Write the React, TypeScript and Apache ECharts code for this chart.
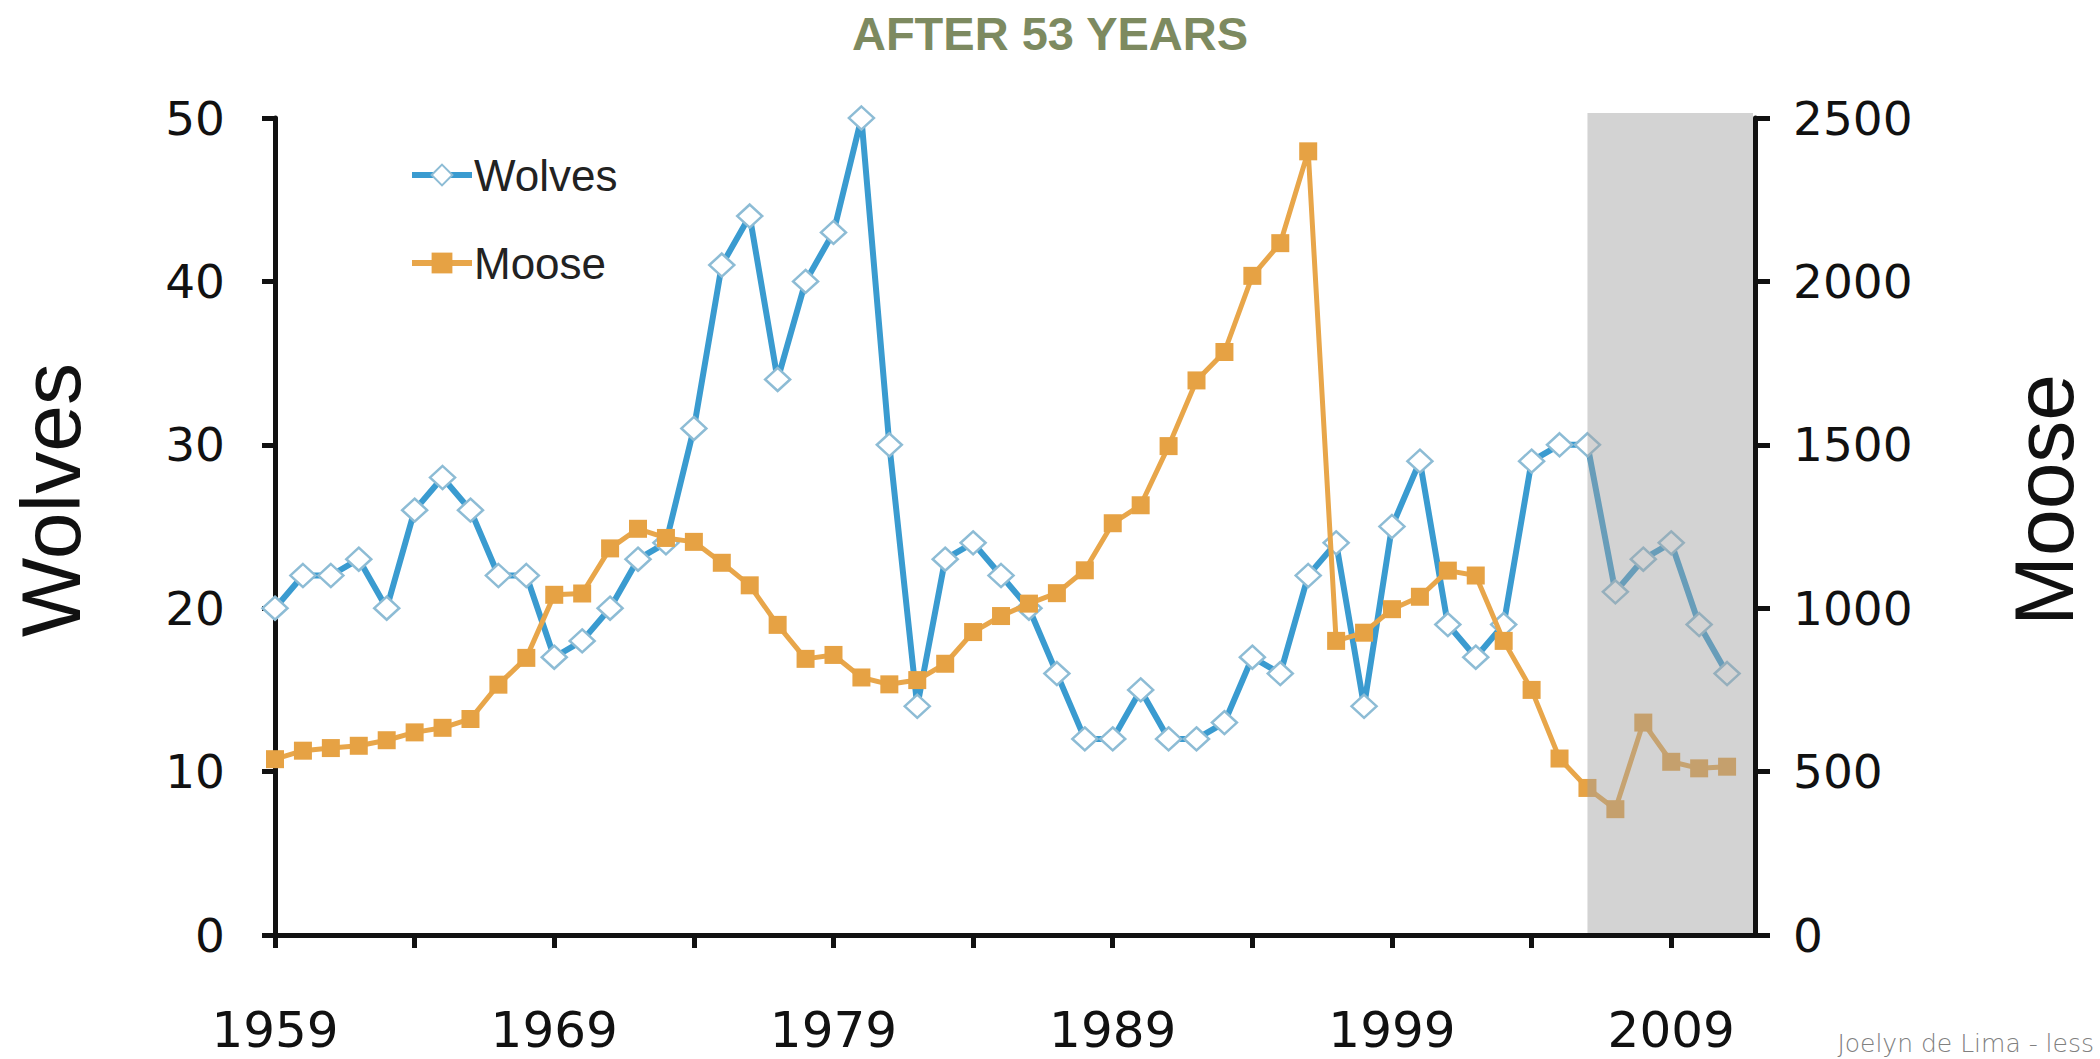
import React, { useEffect, useRef } from "react";
import * as echarts from "echarts";

const years = [
  1959, 1960, 1961, 1962, 1963, 1964, 1965, 1966, 1967, 1968,
  1969, 1970, 1971, 1972, 1973, 1974, 1975, 1976, 1977, 1978,
  1979, 1980, 1981, 1982, 1983, 1984, 1985, 1986, 1987, 1988,
  1989, 1990, 1991, 1992, 1993, 1994, 1995, 1996, 1997, 1998,
  1999, 2000, 2001, 2002, 2003, 2004, 2005, 2006, 2007, 2008,
  2009, 2010, 2011,
];

const wolves = [
  20, 22, 22, 23, 20, 26, 28, 26, 22, 22,
  17, 18, 20, 23, 24, 31, 41, 44, 34, 40,
  43, 50, 30, 14, 23, 24, 22, 20, 16, 12,
  12, 15, 12, 12, 13, 17, 16, 22, 24, 14,
  25, 29, 19, 17, 19, 29, 30, 30, 21, 23,
  24, 19, 16,
];

const moose = [
  538, 564, 572, 579, 596, 620, 634, 661, 766, 848,
  1041, 1045, 1183, 1243, 1215, 1203, 1139, 1070, 949, 845,
  857, 788, 767, 780, 830, 927, 976, 1014, 1046, 1116,
  1260, 1315, 1496, 1697, 1784, 2017, 2117, 2398, 900, 925,
  997, 1035, 1115, 1100, 900, 750, 540, 450, 385, 650,
  530, 510, 515,
];

const xTickValues = [1959, 1964, 1969, 1974, 1979, 1984, 1989, 1994, 1999, 2004, 2009];
const xLabelValues = [1959, 1969, 1979, 1989, 1999, 2009];
// shaded period: [startYear, endYear, mooseMin, mooseMax]
const shadedPeriod = [[2006, 2012, 0, 2500]];

const AXIS_COLOR = "#111111";
const TICK_FONT = "DejaVu Sans";
const TEXT_FONT = "Liberation Sans";

export default function App() {
  const ref = useRef<HTMLDivElement>(null);

  useEffect(() => {
    document.body.style.margin = "0";
    if (!ref.current) return;
    const chart = echarts.init(ref.current, null, { renderer: "svg" });

    const axisLine = { show: true, onZero: false, lineStyle: { color: AXIS_COLOR, width: 5 } };
    const axisTickStyle = { color: AXIS_COLOR, width: 5 };
    const plain = (v: number) => String(v);

    chart.setOption({
      animation: false,
      backgroundColor: "#ffffff",
      title: {
        text: "AFTER 53 YEARS",
        left: "center",
        top: 10,
        padding: 0,
        textStyle: {
          fontFamily: TEXT_FONT,
          fontWeight: "bold",
          fontSize: 47,
          color: "#7d8a60",
        },
      },
      legend: {
        data: ["Wolves", "Moose"],
        orient: "vertical",
        left: 409,
        top: 153,
        padding: 0,
        itemWidth: 60,
        itemHeight: 26,
        itemGap: 44,
        selectedMode: false,
        lineStyle: { width: 6 },
        textStyle: {
          fontFamily: TEXT_FONT,
          fontSize: 44,
          lineHeight: 44,
          color: "#222222",
          padding: [0, 0, 0, -3],
        },
      },
      grid: { left: 275, right: 345, top: 118, bottom: 124, containLabel: false },
      xAxis: {
        type: "value",
        min: 1959,
        max: 2012,
        axisLine,
        axisTick: { show: true, length: 13, lineStyle: axisTickStyle, customValues: xTickValues },
        axisLabel: {
          customValues: xLabelValues,
          formatter: plain,
          margin: 70,
          fontSize: 50,
          fontFamily: TICK_FONT,
          color: AXIS_COLOR,
        },
        splitLine: { show: false },
      },
      yAxis: [
        {
          type: "value",
          position: "left",
          min: 0,
          max: 50,
          interval: 10,
          axisLine,
          axisTick: { show: true, length: 13, lineStyle: axisTickStyle },
          axisLabel: { formatter: plain, margin: 50, fontSize: 47, fontFamily: TICK_FONT, color: AXIS_COLOR },
          splitLine: { show: false },
        },
        {
          type: "value",
          position: "right",
          min: 0,
          max: 2500,
          interval: 500,
          axisLine,
          axisTick: { show: true, length: 15, lineStyle: axisTickStyle },
          axisLabel: { formatter: plain, margin: 38, fontSize: 47, fontFamily: TICK_FONT, color: AXIS_COLOR },
          splitLine: { show: false },
        },
      ],
      graphic: [
        {
          type: "text",
          x: 51,
          y: 500,
          rotation: Math.PI / 2,
          style: {
            text: "Wolves",
            fontFamily: TEXT_FONT,
            fontSize: 84,
            fill: AXIS_COLOR,
            align: "center",
            verticalAlign: "middle",
          },
        },
        {
          type: "text",
          x: 2044,
          y: 500,
          rotation: Math.PI / 2,
          style: {
            text: "Moose",
            fontFamily: TEXT_FONT,
            fontSize: 84,
            fill: AXIS_COLOR,
            align: "center",
            verticalAlign: "middle",
          },
        },
        {
          type: "text",
          x: 2094,
          y: 1043,
          style: {
            text: "Joelyn de Lima - less",
            fontFamily: TICK_FONT,
            fontWeight: 200,
            fontSize: 25,
            fill: "#808080",
            align: "right",
            verticalAlign: "middle",
          },
        },
      ],
      series: [
        {
          name: "Wolves",
          type: "line",
          yAxisIndex: 0,
          data: years.map((y, i) => [y, wolves[i]]),
          symbol: "diamond",
          symbolSize: [25, 23],
          showAllSymbol: true,
          lineStyle: { color: "#3a9bd0", width: 6 },
          itemStyle: { color: "#ffffff", borderColor: "#8dbcd5", borderWidth: 2.5 },
          emphasis: { disabled: true },
          z: 3,
        },
        {
          name: "Moose",
          type: "line",
          yAxisIndex: 1,
          data: years.map((y, i) => [y, moose[i]]),
          symbol: "rect",
          symbolSize: 18,
          showAllSymbol: true,
          lineStyle: { color: "#e8a64a", width: 5 },
          itemStyle: { color: "#e6a244", borderWidth: 0 },
          emphasis: { disabled: true },
          z: 4,
        },
        {
          name: "shade",
          type: "custom",
          xAxisIndex: 0,
          yAxisIndex: 1,
          silent: true,
          z: 10,
          encode: { x: [0, 1], y: [2, 3] },
          data: shadedPeriod,
          renderItem: (params: any, api: any) => {
            const p0 = api.coord([api.value(0), api.value(3)]);
            const p1 = api.coord([api.value(1), api.value(2)]);
            return {
              type: "rect",
              shape: {
                x: p0[0],
                y: p0[1] - 5,
                width: p1[0] - p0[0] - 2,
                height: p1[1] - p0[1] + 5 - 2,
              },
              style: { fill: "rgba(160,160,160,0.46)" },
            };
          },
        },
      ],
    });

    return () => chart.dispose();
  }, []);

  return (
    <div
      ref={ref}
      style={{ position: "fixed", left: 0, top: 0, width: 2100, height: 1059 }}
    />
  );
}
